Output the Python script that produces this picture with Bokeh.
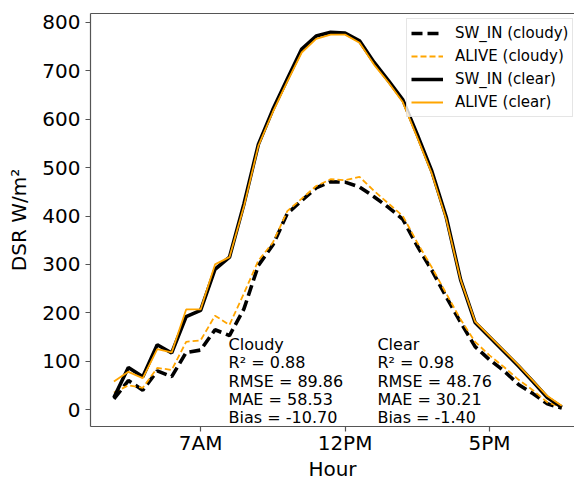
from bokeh.plotting import figure
from bokeh.models import Range1d, FixedTicker, LinearAxis, Legend, LegendItem, Label
from bokeh.embed import file_html
from bokeh.resources import INLINE

hours = [4.0, 4.5, 5.0, 5.5, 6.0, 6.5, 7.0, 7.5, 8.0, 8.5, 9.0, 9.5, 10.0, 10.5, 11.0, 11.5,
         12.0, 12.5, 13.0, 13.5, 14.0, 14.5, 15.0, 15.5, 16.0, 16.5, 17.0, 17.5, 18.0, 18.5, 19.0, 19.5]

sw_cloudy = [22, 60, 40, 80, 68, 118, 123, 165, 153, 208, 298, 340, 405, 432, 458, 471,
             470, 460, 440, 418, 393, 338, 288, 233, 180, 130, 103, 80, 52, 33, 12, 3]
alive_cloudy = [35, 50, 45, 86, 82, 140, 143, 194, 175, 240, 308, 345, 410, 436, 462, 476,
                474, 481, 452, 426, 400, 345, 294, 240, 186, 140, 112, 88, 62, 40, 15, 5]
sw_clear = [25, 87, 68, 134, 117, 192, 205, 290, 315, 425, 548, 620, 683, 745, 772, 780,
            778, 762, 718, 680, 640, 568, 493, 398, 268, 180, 150, 120, 90, 58, 25, 5]
alive_clear = [58, 78, 65, 125, 118, 207, 207, 300, 315, 420, 545, 615, 678, 738, 766, 775,
               775, 758, 713, 676, 635, 562, 488, 394, 268, 182, 152, 122, 92, 60, 28, 8]

x_ticks = [7, 12, 17]
x_tick_labels = ["7AM", "12PM", "5PM"]
y_ticks = [0, 100, 200, 300, 400, 500, 600, 700, 800]

cloudy_stats = ["Cloudy", "R\u00b2 = 0.88", "RMSE = 89.86", "MAE = 58.53", "Bias = -10.70"]
clear_stats = ["Clear", "R\u00b2 = 0.98", "RMSE = 48.76", "MAE = 30.21", "Bias = -1.40"]

FONT = "DejaVu Sans"
SPINE = "#555555"

p = figure(width=574, height=483, output_backend="svg", toolbar_location=None,
           x_range=Range1d(3.19, 19.94), y_range=Range1d(-35, 818.6),
           min_border_left=90, min_border_right=0, min_border_top=13, min_border_bottom=56)
p.outline_line_color = None
p.grid.visible = False
p.background_fill_color = "white"

r1 = p.line(hours, sw_cloudy, line_color="black", line_width=3.6, line_dash="11 5")
r2 = p.line(hours, alive_cloudy, line_color="orange", line_width=1.8, line_dash="6 3")
r3 = p.line(hours, sw_clear, line_color="black", line_width=3.6)
r4 = p.line(hours, alive_clear, line_color="orange", line_width=1.8)

for ax in (p.xaxis[0], p.yaxis[0]):
    ax.axis_line_color = SPINE
    ax.axis_line_width = 1.2
    ax.major_tick_line_color = SPINE
    ax.major_tick_line_width = 1.2
    ax.major_tick_out = 5
    ax.major_tick_in = 0
    ax.minor_tick_line_color = None
    ax.major_label_text_font = FONT
    ax.major_label_text_font_size = "20px"
    ax.major_label_text_color = "black"
    ax.axis_label_text_font = FONT
    ax.axis_label_text_font_size = "20px"
    ax.axis_label_text_font_style = "normal"
    ax.axis_label_text_color = "black"

p.xaxis.ticker = FixedTicker(ticks=x_ticks)
p.xaxis.major_label_overrides = {t: l for t, l in zip(x_ticks, x_tick_labels)}
p.xaxis.axis_label = "Hour"
p.xaxis.major_label_standoff = -1
p.xaxis.axis_label_standoff = -1
p.xaxis.major_label_text_line_height = 1.0
p.xaxis.axis_label_text_line_height = 1.0

p.yaxis.ticker = FixedTicker(ticks=y_ticks)
p.yaxis.axis_label = "DSR W/m\u00b2"
p.yaxis.major_label_standoff = 5
p.yaxis.axis_label_standoff = 8

top = LinearAxis(ticker=FixedTicker(ticks=[]), axis_line_color=SPINE, axis_line_width=1.2,
                 major_tick_line_color=None, minor_tick_line_color=None,
                 major_label_text_font_size="0px")
p.add_layout(top, "above")

legend = Legend(items=[LegendItem(label="SW_IN (cloudy)", renderers=[r1]),
                       LegendItem(label="ALIVE (cloudy)", renderers=[r2]),
                       LegendItem(label="SW_IN (clear)", renderers=[r3]),
                       LegendItem(label="ALIVE (clear)", renderers=[r4])],
                location=(316, 309))
legend.label_text_font = FONT
legend.label_text_font_size = "15px"
legend.label_text_color = "black"
legend.glyph_width = 32
legend.glyph_height = 20
legend.label_height = 20
legend.spacing = 3
legend.padding = 4
legend.margin = 0
legend.label_standoff = 12
legend.border_line_color = "#cccccc"
legend.border_line_width = 1
legend.background_fill_alpha = 0.8
p.add_layout(legend)

line_y = [134, 97, 57, 21, -16.5]
for xpos, texts in ((7.97, cloudy_stats), (13.12, clear_stats)):
    for t, yv in zip(texts, line_y):
        p.add_layout(Label(x=xpos, y=yv, text=t, text_font=FONT, text_font_size="16px",
                           text_baseline="alphabetic", text_color="black"))

open("out.html", "w").write(file_html(p, INLINE))
